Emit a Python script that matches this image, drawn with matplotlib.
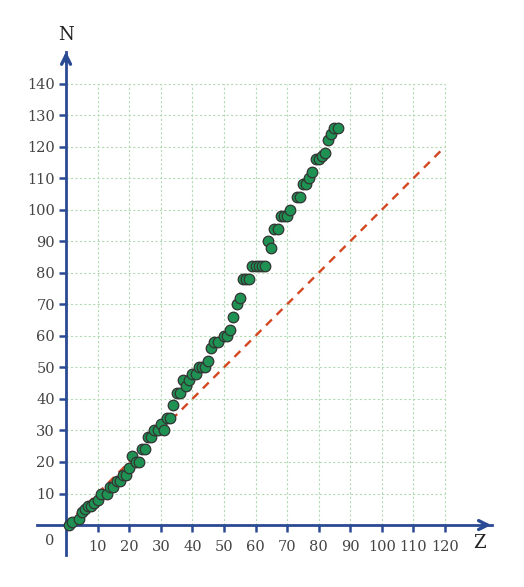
import matplotlib
matplotlib.use("Agg")
import matplotlib.pyplot as plt

# Data (proton number Z, neutron number N)
Z = [1, 2, 4, 5, 6, 7, 8, 9, 10, 11, 13, 14, 15, 16, 17, 18, 19, 20,
     21, 22, 23, 24, 25, 26, 27, 28, 29, 30, 31, 32, 33,
     34, 35, 36, 37, 38, 39, 40, 41, 42, 43, 44, 45, 46, 47, 48,
     50, 51, 52, 53, 54, 55, 56, 57, 58, 59, 60, 61, 62, 63,
     64, 65, 66, 67, 68, 69, 70, 71, 73, 74, 75, 76, 77, 78,
     79, 80, 81, 82, 83, 84, 85, 86]
N = [0, 1, 2, 4, 5, 6, 6, 7, 8, 10, 10, 12, 12, 14, 14, 16, 16, 18,
     22, 20, 20, 24, 24, 28, 28, 30, 30, 32, 30, 34, 34,
     38, 42, 42, 46, 44, 46, 48, 48, 50, 50, 50, 52, 56, 58, 58,
     60, 60, 62, 66, 70, 72, 78, 78, 78, 82, 82, 82, 82, 82,
     90, 88, 94, 94, 98, 98, 98, 100, 104, 104, 108, 108, 110, 112,
     116, 116, 117, 118, 122, 124, 126, 126]

line_Z = [0, 120]
line_N = [0, 120]

x_ticks = [10, 20, 30, 40, 50, 60, 70, 80, 90, 100, 110, 120]
y_ticks = [10, 20, 30, 40, 50, 60, 70, 80, 90, 100, 110, 120, 130, 140]

blue = "#2b4a94"
grid_c = "#b3dbb3"
text_c = "#444444"
plt.rcParams['font.family'] = ['DejaVu Serif']

fig = plt.figure(figsize=(5.24, 5.87), dpi=100)
ax = fig.add_axes([37 / 524, 32 / 587, 455.4 / 524, 503 / 587])
ax.set_xlim(-9.2, 135)
ax.set_ylim(-9.5, 150)

# grid restricted to box
for x in x_ticks:
    ax.plot([x, x], [0, 140], color=grid_c, lw=0.8, ls=(0, (2, 2)), zorder=1)
for y in y_ticks:
    ax.plot([0, 120], [y, y], color=grid_c, lw=0.8, ls=(0, (2, 2)), zorder=1)

# spines at zero
for s in ['top', 'right']:
    ax.spines[s].set_visible(False)
ax.spines['left'].set_position(('data', 0))
ax.spines['bottom'].set_position(('data', 0))
for s in ['left', 'bottom']:
    ax.spines[s].set_color(blue)
    ax.spines[s].set_linewidth(2.0)

ax.set_xticks(x_ticks)
ax.set_yticks(y_ticks)
ax.tick_params(axis='both', direction='out', length=5, width=1.8, color=blue,
               labelcolor=text_c, labelsize=10.5)
ax.tick_params(axis='x', pad=6)
ax.tick_params(axis='y', pad=3)

# arrow heads
ax.annotate('', xy=(135.5, 0), xytext=(131, 0),
            arrowprops=dict(arrowstyle='->', color=blue, lw=2.4, mutation_scale=16),
            annotation_clip=False, zorder=5)
ax.annotate('', xy=(0, 151), xytext=(0, 146),
            arrowprops=dict(arrowstyle='->', color=blue, lw=2.4, mutation_scale=16),
            annotation_clip=False, zorder=5)

# N = Z line
ax.plot(line_Z, line_N, color="#d4461f", lw=1.7, ls=(0, (3.5, 2.8)), zorder=2)

# data
ax.scatter(Z, N, s=58, facecolor="#1f9152", edgecolor="#333333", linewidth=0.9,
           zorder=4, clip_on=False)

ax.text(-5.2, -5.2, "0", ha='center', va='center', fontsize=10.5, color=text_c)
ax.text(0, 155.5, "N", ha='center', va='center', fontsize=13, color="#222222",
        clip_on=False)
ax.text(130.8, -5.8, "Z", ha='center', va='center', fontsize=13, color="#222222",
        clip_on=False)

fig.savefig("out.png", dpi=100)
